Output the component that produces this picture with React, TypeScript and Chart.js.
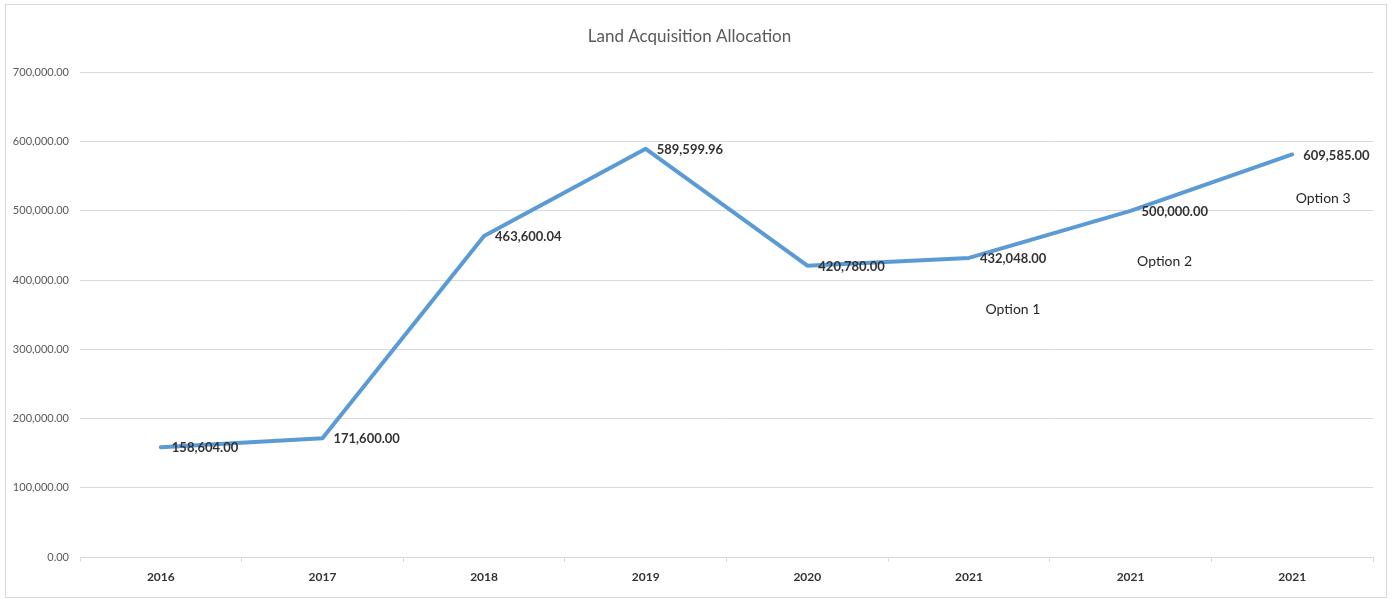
import React, { useEffect, useRef } from "react";
import { Chart, registerables } from "chart.js";

Chart.register(...registerables);

const categories = ["2016", "2017", "2018", "2019", "2020", "2021", "2021", "2021"];
const values = [158604, 171600, 463600.04, 589599.96, 420780, 432048, 500000, 581500];
const valueLabels = [
  "158,604.00",
  "171,600.00",
  "463,600.04",
  "589,599.96",
  "420,780.00",
  "432,048.00",
  "500,000.00",
  "609,585.00",
];
const optionLabels = ["Option 1", "Option 2", "Option 3"];
const optionPointIndex = [5, 6, 7];
const yTickValues = [0, 100000, 200000, 300000, 400000, 500000, 600000, 700000];

const FONT = "Lato, 'Open Sans', sans-serif";

const fmt = (v: number) =>
  v.toLocaleString("en-US", { minimumFractionDigits: 2, maximumFractionDigits: 2 });

const labelPlugin = {
  id: "valueLabels",
  afterDatasetsDraw(chart: any) {
    const ctx = chart.ctx;
    const meta = chart.getDatasetMeta(0);
    ctx.save();
    ctx.font = `bold 13px ${FONT}`;
    ctx.fillStyle = "#333333";
    ctx.textAlign = "left";
    ctx.textBaseline = "middle";
    meta.data.forEach((pt: any, i: number) => {
      ctx.fillText(valueLabels[i], pt.x + 11, pt.y + 1);
    });
    const offsets = [
      [44, 52],
      [34, 51],
      [31, 44],
    ];
    ctx.font = `14px ${FONT}`;
    ctx.fillStyle = "#262626";
    ctx.textAlign = "center";
    ctx.textBaseline = "middle";
    optionLabels.forEach((t, k) => {
      const pt = meta.data[optionPointIndex[k]];
      ctx.fillText(t, pt.x + offsets[k][0], pt.y + offsets[k][1]);
    });
    ctx.restore();
  },
};

export default function App() {
  const ref = useRef<HTMLCanvasElement | null>(null);
  useEffect(() => {
    document.body.style.margin = "0";
    if (!ref.current) return;
    const chart = new Chart(ref.current, {
      type: "line",
      data: {
        labels: categories,
        datasets: [
          {
            data: values,
            borderColor: "#5b9bd5",
            borderWidth: 4,
            pointRadius: 0,
            tension: 0,
            fill: false,
            borderJoinStyle: "round",
            borderCapStyle: "round",
          },
        ],
      },
      options: {
        animation: false,
        responsive: true,
        maintainAspectRatio: false,
        layout: { padding: { left: 0, right: 13, top: 0, bottom: 0 } },
        plugins: {
          legend: { display: false },
          tooltip: { enabled: false },
          title: {
            display: true,
            text: "Land Acquisition Allocation",
            color: "#595959",
            font: { family: FONT, size: 17, weight: "normal" },
            padding: { top: 21, bottom: 26 },
          },
        },
        scales: {
          x: {
            offset: true,
            grid: {
              offset: true,
              drawOnChartArea: false,
              drawTicks: true,
              tickLength: 5,
              color: "#d9d9d9",
            },
            border: { display: true, color: "#d9d9d9" },
            ticks: {
              color: "#333333",
              font: { family: FONT, size: 12, weight: "bold" },
              padding: 8,
              maxRotation: 0,
              autoSkip: false,
            },
            afterFit: (s: any) => {
              s.height = 40;
            },
          },
          y: {
            min: 0,
            max: 700000,
            afterBuildTicks: (s: any) => {
              s.ticks = yTickValues.map((v) => ({ value: v }));
            },
            grid: { color: "#d9d9d9", drawTicks: false, lineWidth: 1 },
            border: { display: false },
            ticks: {
              color: "#595959",
              font: { family: FONT, size: 11 },
              padding: 11,
              callback: (v: any) => fmt(Number(v)),
            },
            afterFit: (s: any) => {
              s.width = 74;
            },
          },
        },
      },
      plugins: [labelPlugin],
    } as any);
    return () => chart.destroy();
  }, []);

  return (
    <div style={{ position: "relative", width: 1397, height: 602, background: "#fff" }}>
      <div
        style={{
          position: "absolute",
          left: 5,
          top: 4,
          width: 1382,
          height: 594,
          boxSizing: "border-box",
          border: "1px solid #d9d9d9",
        }}
      >
        <canvas ref={ref} />
      </div>
    </div>
  );
}
